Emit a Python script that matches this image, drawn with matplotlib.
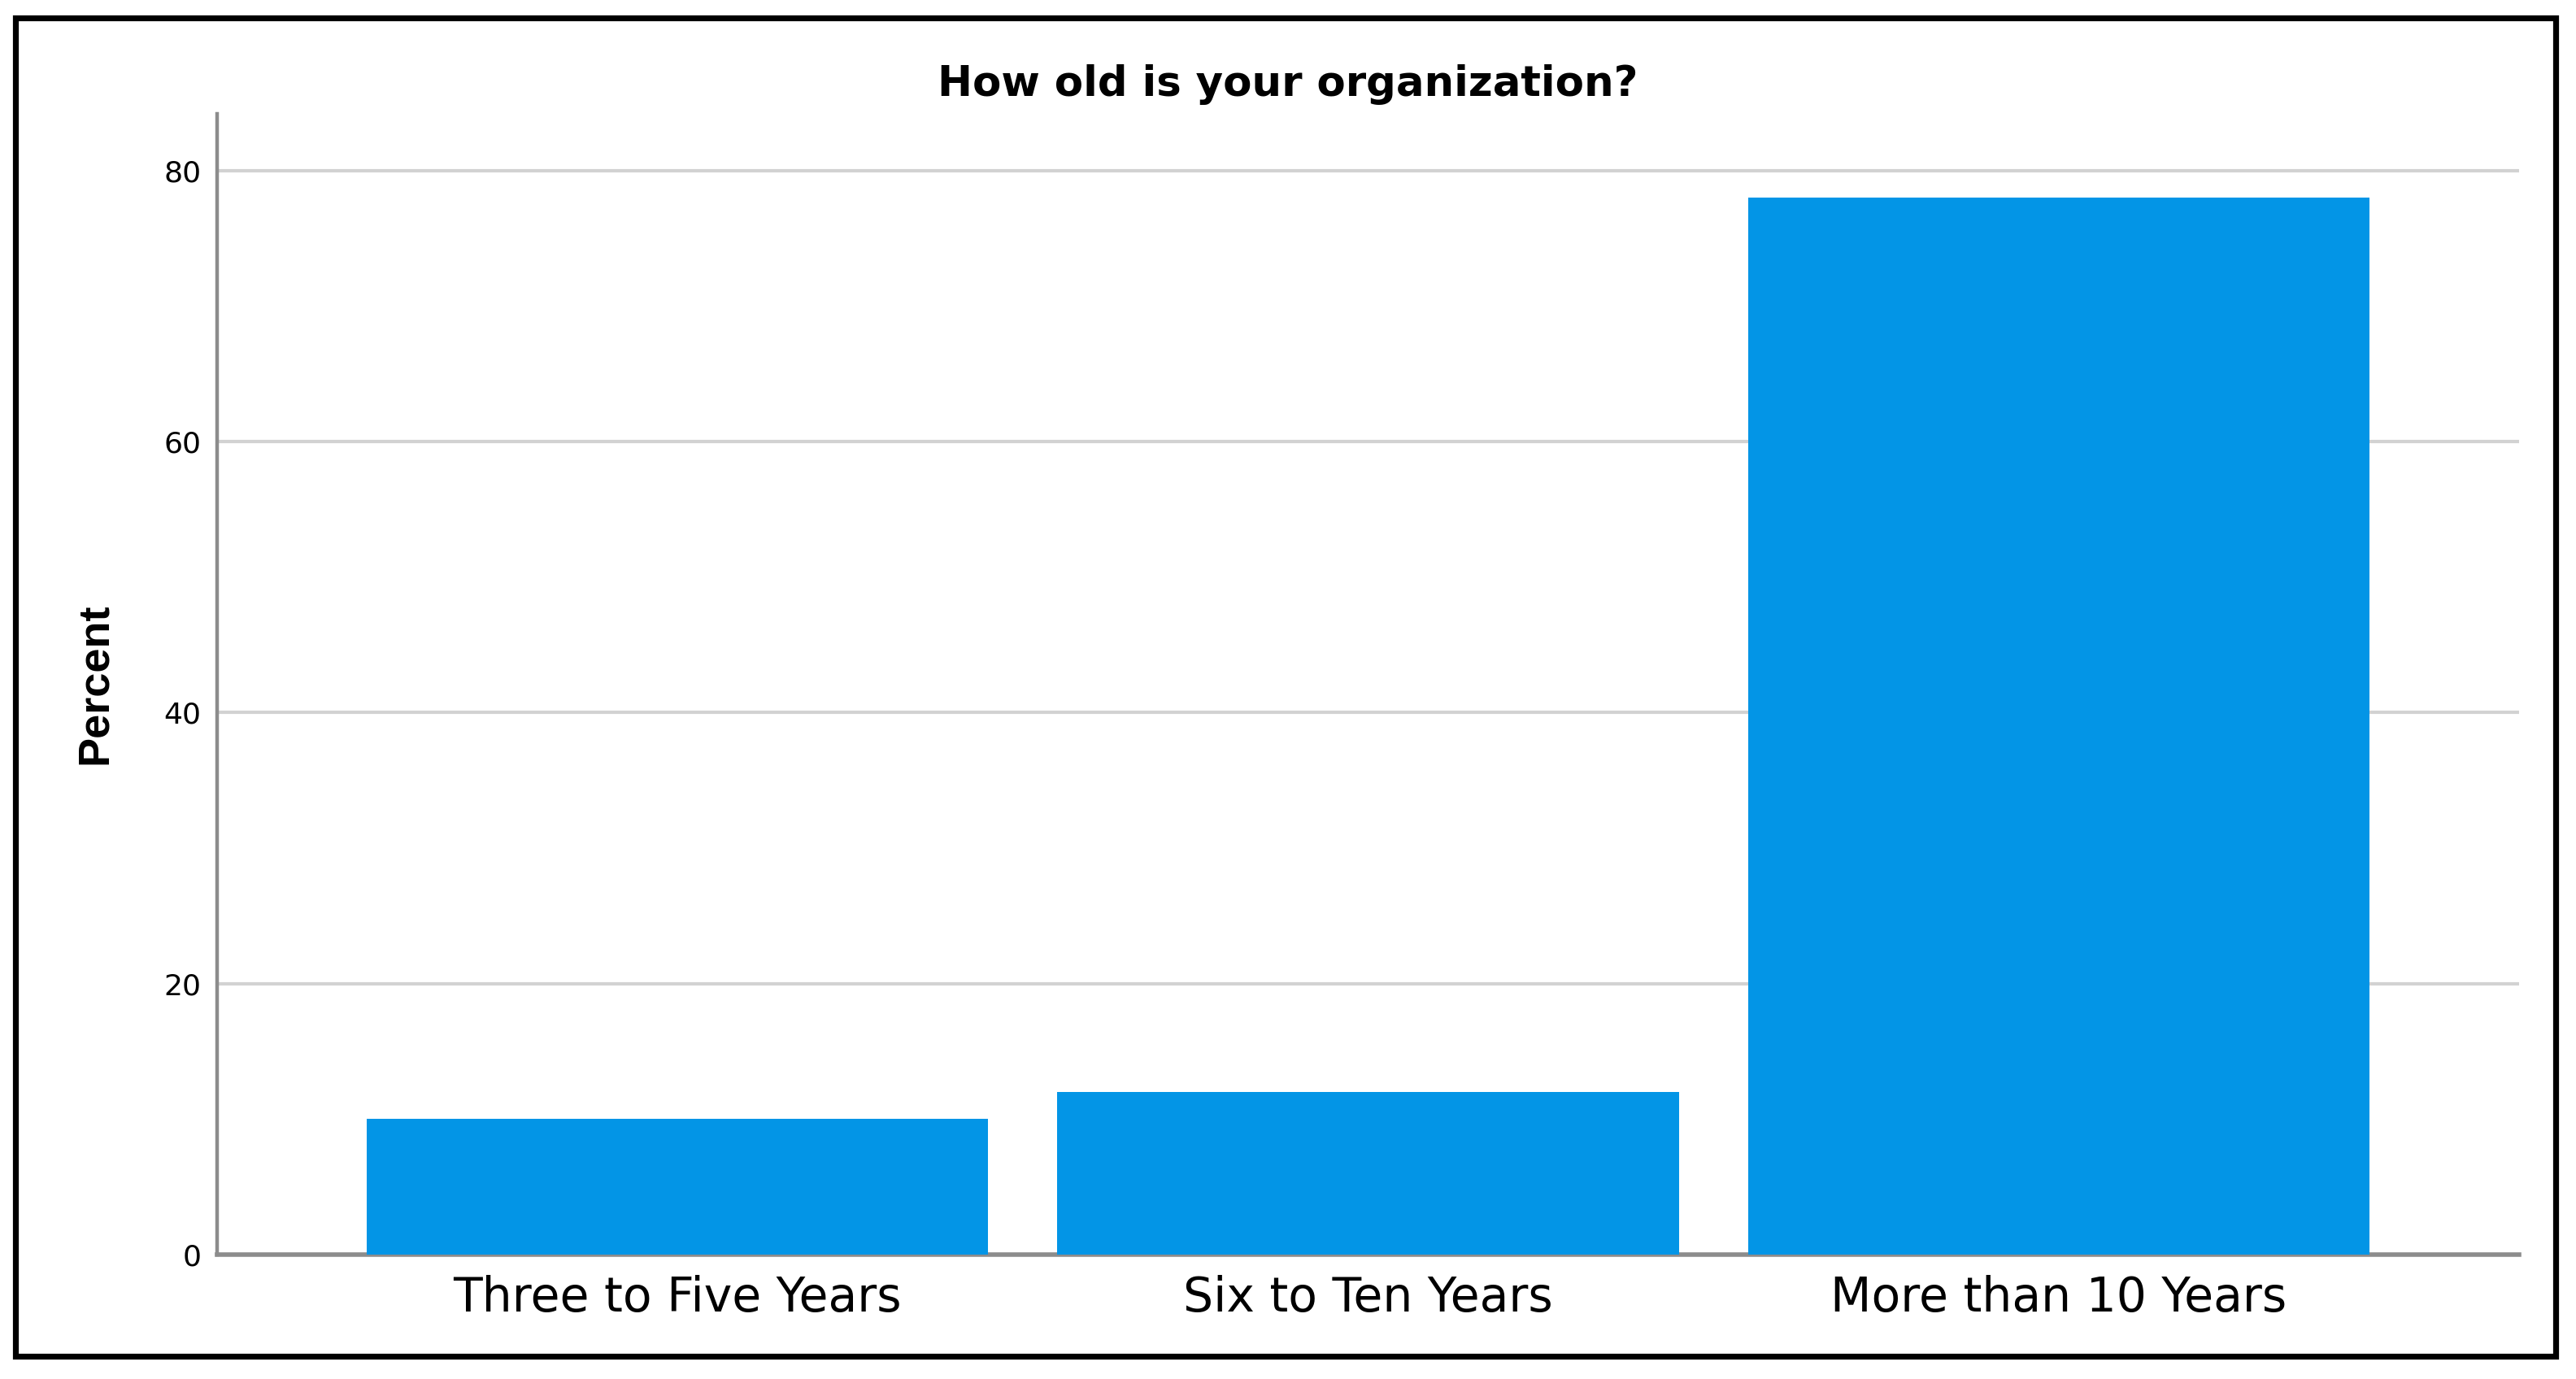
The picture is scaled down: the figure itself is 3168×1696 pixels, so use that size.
import matplotlib.pyplot as plt
from matplotlib.patches import Rectangle

categories = ['Three to Five Years', 'Six to Ten Years', 'More than 10 Years']
percent = [10, 12, 78]
yticks = [0, 20, 40, 60, 80]

W, H = 3168, 1696
fig = plt.figure(figsize=(W / 100, H / 100), dpi=100)
fig.patch.set_facecolor('white')

# axes box in pixels: left 267, right 3098, top 140, bottom 1543
ax = fig.add_axes([267 / W, 1 - 1543 / H, (3098 - 267) / W, (1543 - 140) / H])

x = range(len(categories))
ax.bar(x, percent, width=0.9, color='#0395e6', zorder=3)

ax.set_xlim(-0.667, 2.667)
ax.set_ylim(0, 84.2)
ax.set_yticks(yticks)
ax.set_xticks(list(x))
ax.set_xticklabels(categories, fontsize=42, family='DejaVu Sans')
ax.set_yticklabels([str(v) for v in yticks], fontsize=26, family='DejaVu Sans')

ax.grid(axis='y', color='#d2d2d2', linewidth=3, zorder=0)
ax.spines['top'].set_visible(False)
ax.spines['right'].set_visible(False)
ax.spines['left'].set_color('#8c8c8c')
ax.spines['left'].set_linewidth(3.2)
ax.spines['bottom'].set_color('#8c8c8c')
ax.spines['bottom'].set_linewidth(4)
ax.tick_params(axis='both', length=0)
ax.tick_params(axis='y', pad=14)
ax.tick_params(axis='x', pad=18)

# y label, narrower bold face as in the original
fig.text(117 / W, 1 - 841 / H, 'Percent', rotation=90, ha='center', va='center',
         fontsize=39, fontweight='bold', family=['Liberation Sans', 'DejaVu Sans'])

fig.text(0.5, 1 - 118 / H, 'How old is your organization?', ha='center', va='baseline',
         fontsize=37, fontweight='bold', family='DejaVu Sans')

# black frame around the whole picture
fig.patches.append(Rectangle((18.5 / W, 1 - 1668 / H), (3142.5 - 18.5) / W, (1668 - 22) / H,
                             transform=fig.transFigure, fill=False,
                             edgecolor='black', linewidth=5.2))

plt.savefig('out.png', dpi=100)
